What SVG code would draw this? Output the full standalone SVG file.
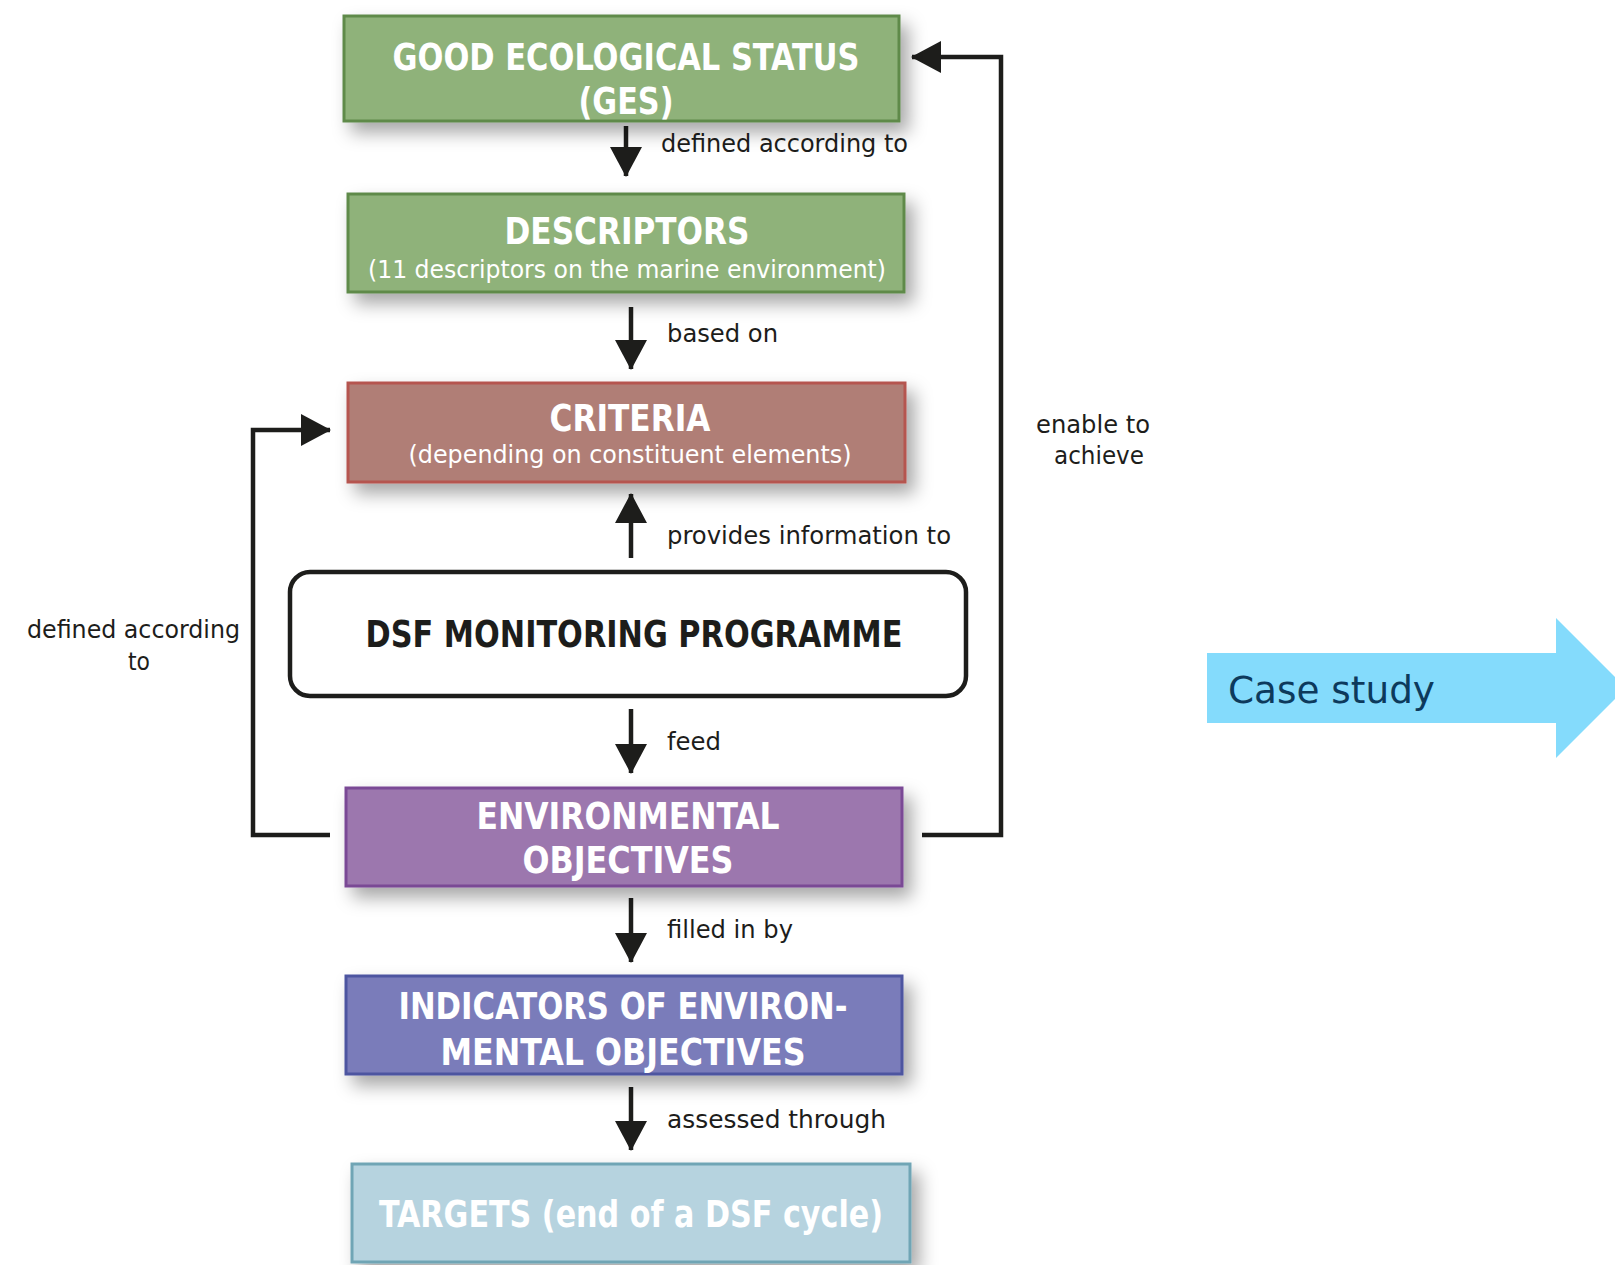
<svg xmlns="http://www.w3.org/2000/svg" width="1615" height="1265" viewBox="0 0 1615 1265">
<defs>
<filter id="sh" x="-10%" y="-20%" width="130%" height="160%">
<feDropShadow dx="8" dy="10" stdDeviation="9" flood-color="#000" flood-opacity="0.35"/>
</filter>
<marker id="ah" markerUnits="userSpaceOnUse" markerWidth="32" markerHeight="32" viewBox="0 0 30 32" refX="29" refY="16" orient="auto">
<path d="M0,0 L30,16 L0,32 z" fill="#1d1d1b"/>
</marker>
</defs>
<style>
.box{stroke-width:3;filter:url(#sh)}
.t{font-family:"DejaVu Sans Condensed","DejaVu Sans","Liberation Sans",sans-serif;font-weight:bold;fill:#fff;text-anchor:middle}
.big{font-size:38px}
.sub{font-size:25px;font-weight:normal}
.lbl{font-family:"DejaVu Sans Condensed","DejaVu Sans","Liberation Sans",sans-serif;font-size:25px;fill:#1d1d1b}
.con{fill:none;stroke:#1d1d1b;stroke-width:4.5;marker-end:url(#ah)}
</style>
<rect width="1615" height="1265" fill="#fff"/>

<g id="connectors">
<line class="con" x1="626" y1="126" x2="626" y2="176"/>
<line class="con" x1="631" y1="307" x2="631" y2="369"/>
<line class="con" x1="631" y1="558" x2="631" y2="494"/>
<line class="con" x1="631" y1="709" x2="631" y2="773"/>
<line class="con" x1="631" y1="898" x2="631" y2="962"/>
<line class="con" x1="631" y1="1087" x2="631" y2="1150"/>
<polyline class="con" points="330,835 253,835 253,430 330,430"/>
<polyline class="con" points="922,835 1001,835 1001,57 912,57"/>
<text class="lbl" x="661" y="152" textLength="247" lengthAdjust="spacingAndGlyphs">defined according to</text>
<text class="lbl" x="667" y="342" textLength="111" lengthAdjust="spacingAndGlyphs">based on</text>
<text class="lbl" x="667" y="544" textLength="284" lengthAdjust="spacingAndGlyphs">provides information to</text>
<text class="lbl" x="667" y="750" textLength="54" lengthAdjust="spacingAndGlyphs">feed</text>
<text class="lbl" x="667" y="938" textLength="126" lengthAdjust="spacingAndGlyphs">filled in by</text>
<text class="lbl" x="667" y="1128" textLength="219" lengthAdjust="spacingAndGlyphs">assessed through</text>
<text class="lbl" x="1036" y="433" textLength="114" lengthAdjust="spacingAndGlyphs">enable to</text>
<text class="lbl" x="1054" y="464" textLength="90" lengthAdjust="spacingAndGlyphs">achieve</text>
<text class="lbl" x="27" y="638" textLength="213" lengthAdjust="spacingAndGlyphs">defined according</text>
<text class="lbl" x="128" y="670" textLength="22" lengthAdjust="spacingAndGlyphs">to</text>
</g>

<g id="ges">
<rect class="box" x="344" y="16" width="555" height="105" fill="#8FB27A" stroke="#5E8A4A"/>
<text class="t big" x="626" y="70" textLength="467" lengthAdjust="spacingAndGlyphs">GOOD ECOLOGICAL STATUS</text>
<text class="t big" x="626" y="114" textLength="95" lengthAdjust="spacingAndGlyphs">(GES)</text>
</g>

<g id="descriptors">
<rect class="box" x="348" y="194" width="556" height="98" fill="#8FB27A" stroke="#5E8A4A"/>
<text class="t big" x="627" y="244" textLength="245" lengthAdjust="spacingAndGlyphs">DESCRIPTORS</text>
<text class="t sub" x="627" y="278" textLength="518" lengthAdjust="spacingAndGlyphs">(11 descriptors on the marine environment)</text>
</g>

<g id="criteria">
<rect class="box" x="348" y="383" width="557" height="99" fill="#B07E76" stroke="#B5554F"/>
<text class="t big" x="630" y="431" textLength="161" lengthAdjust="spacingAndGlyphs">CRITERIA</text>
<text class="t sub" x="630" y="463" textLength="443" lengthAdjust="spacingAndGlyphs">(depending on constituent elements)</text>
</g>

<g id="monitoring">
<rect x="290" y="572" width="676" height="124" rx="20" fill="#fff" stroke="#1d1d1b" stroke-width="4.5"/>
<text class="t big" x="634" y="647" fill="#1d1d1b" style="fill:#1d1d1b" textLength="537" lengthAdjust="spacingAndGlyphs">DSF MONITORING PROGRAMME</text>
</g>

<g id="env-objectives">
<rect class="box" x="346" y="788" width="556" height="98" fill="#9C77AE" stroke="#7A4895"/>
<text class="t big" x="628" y="829" textLength="303" lengthAdjust="spacingAndGlyphs">ENVIRONMENTAL</text>
<text class="t big" x="628" y="873" textLength="211" lengthAdjust="spacingAndGlyphs">OBJECTIVES</text>
</g>

<g id="indicators">
<rect class="box" x="346" y="976" width="556" height="98" fill="#7A7BBA" stroke="#4D55A0"/>
<text class="t big" x="623" y="1019" textLength="449" lengthAdjust="spacingAndGlyphs">INDICATORS OF ENVIRON-</text>
<text class="t big" x="623" y="1065" textLength="365" lengthAdjust="spacingAndGlyphs">MENTAL OBJECTIVES</text>
</g>

<g id="targets">
<rect class="box" x="352" y="1164" width="558" height="98" fill="#B6D3DF" stroke="#6FA5B5"/>
<text class="t big" x="631" y="1227" textLength="504" lengthAdjust="spacingAndGlyphs">TARGETS (end of a DSF cycle)</text>
</g>

<g id="case-study">
<polygon points="1207,653 1556,653 1556,618 1626,688 1556,758 1556,723 1207,723" fill="#84DBFC"/>
<text x="1228" y="703" font-family="'DejaVu Sans','Liberation Sans',sans-serif" font-size="37" fill="#0D3A5C" textLength="207" lengthAdjust="spacingAndGlyphs">Case study</text>
</g>
</svg>
